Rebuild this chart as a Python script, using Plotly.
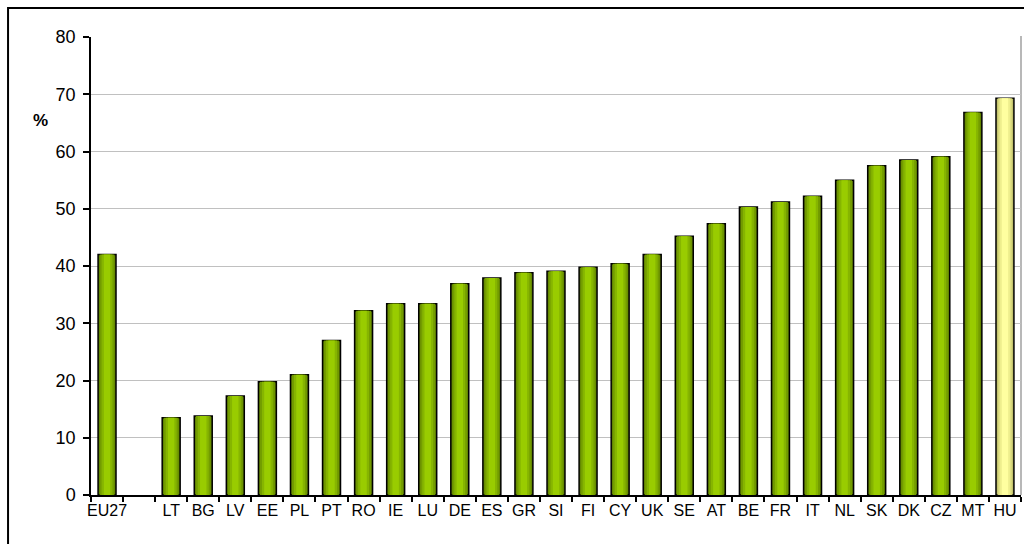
import plotly.graph_objects as go

countries = ["EU27", "", "LT", "BG", "LV", "EE", "PL", "PT", "RO", "IE", "LU", "DE", "ES", "GR",
             "SI", "FI", "CY", "UK", "SE", "AT", "BE", "FR", "IT", "NL", "SK", "DK", "CZ", "MT", "HU"]
values = [42.0, None, 13.5, 13.8, 17.3, 19.8, 21.0, 27.0, 32.2, 33.4, 33.4, 36.9, 37.9, 38.8,
          39.1, 39.8, 40.4, 42.0, 45.2, 47.4, 50.3, 51.2, 52.2, 55.0, 57.5, 58.5, 59.1, 66.8, 69.3]
highlight = "HU"
y_ticks = [0, 10, 20, 30, 40, 50, 60, 70, 80]

xpos = list(range(len(countries)))

# gradient layers (width, green colour, highlight colour)
layers = [
    (0.56, "#5E7F00", "#B8B868"),
    (0.46, "#739C00", "#D6D67C"),
    (0.34, "#86B500", "#EEEE8E"),
    (0.20, "#99CC00", "#FFFFA0"),
]

fig = go.Figure()
for i, (w, g, h) in enumerate(layers):
    cols = [h if c == highlight else g for c in countries]
    line = dict(color="black", width=1.5) if i == 0 else dict(width=0)
    fig.add_trace(go.Bar(x=xpos, y=values, width=w, marker=dict(color=cols, line=line),
                         hoverinfo="skip", showlegend=False))

ff = "Liberation Sans, Arial, sans-serif"

fig.update_layout(
    width=1024, height=544,
    barmode="overlay",
    paper_bgcolor="white", plot_bgcolor="white",
    margin=dict(l=91, r=3, t=37, b=49),
    font=dict(family=ff, size=16, color="black"),
    xaxis=dict(
        range=[-0.5, len(countries) - 0.5],
        tickmode="array", tickvals=xpos, ticktext=countries,
        ticks="", showgrid=False, showline=True, linecolor="black", linewidth=1.5,
        tickfont=dict(family=ff, size=16),
        minor=dict(tickvals=[i - 0.5 for i in range(len(countries) + 1)], ticks="outside",
                   ticklen=5, tickcolor="black", tickwidth=1.5, showgrid=False),
        zeroline=False,
    ),
    yaxis=dict(
        range=[0, 80], tickvals=y_ticks, ticks="outside", ticklen=6, tickcolor="black", tickwidth=1.5,
        showline=True, linecolor="black", linewidth=1.5,
        showgrid=True, gridcolor="#C0C0C0", gridwidth=1.2, zeroline=False,
        tickfont=dict(family=ff, size=18), ticklabelstandoff=4,
    ),
    annotations=[dict(text="<b>%</b>", xref="paper", yref="paper", x=-0.0538, y=0.817,
                      xanchor="center", yanchor="middle",
                      showarrow=False, font=dict(family=ff, size=17))],
    shapes=[
        dict(type="rect", xref="paper", yref="paper", x0=-0.0892, x1=1.2, y0=-0.3, y1=1.0633,
             line=dict(color="black", width=2), layer="below"),
        dict(type="line", xref="paper", yref="paper", x0=1, x1=1, y0=0, y1=1.002,
             line=dict(color="#A0A0A0", width=1.5), layer="below"),
    ],
)

fig.write_html("out.html", config={"displayModeBar": False},
               post_script="document.body.style.margin='0';document.body.style.overflow='hidden';")
